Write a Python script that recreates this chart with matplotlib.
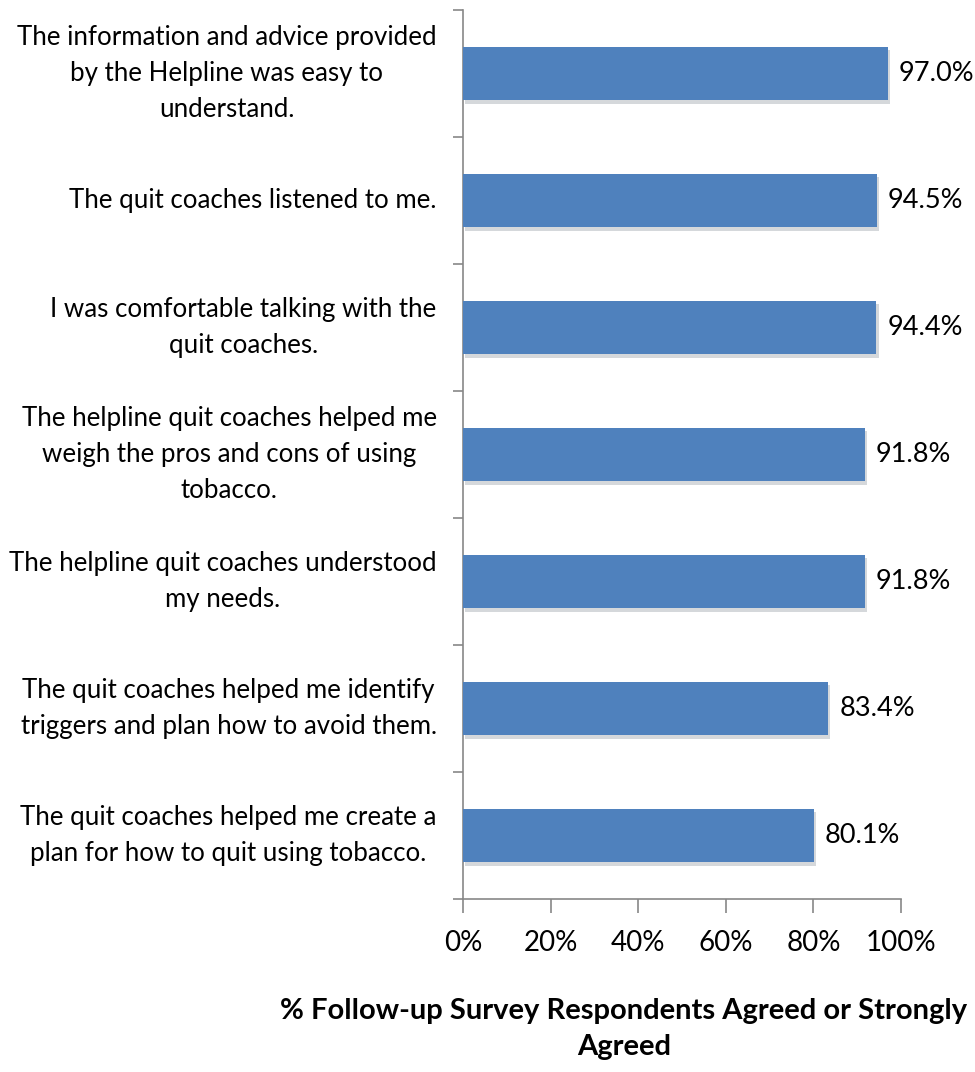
import numpy as np
import matplotlib as mpl
import matplotlib.pyplot as plt
import matplotlib.patheffects as pe
from matplotlib.ticker import PercentFormatter

categories = [
    "The information and advice provided\nby the Helpline was easy to\nunderstand.",
    "The quit coaches listened to me.",
    "I was comfortable talking with the\nquit coaches.",
    "The helpline quit coaches helped me\nweigh the pros and cons of using\ntobacco.",
    "The helpline quit coaches understood\nmy needs.",
    "The quit coaches helped me identify\ntriggers and plan how to avoid them.",
    "The quit coaches helped me create a\nplan for how to quit using tobacco.",
]
values = [97.0, 94.5, 94.4, 91.8, 91.8, 83.4, 80.1]
xticks = [0, 20, 40, 60, 80, 100]

mpl.rcParams['font.family'] = ['Lato', 'DejaVu Sans']

fig = plt.figure(figsize=(9.75, 10.72), dpi=100)
ax = fig.add_axes([463/975, 1 - 899/1072, (901-463)/975, (899-10)/1072])

y_pos = np.arange(len(categories))
bars = ax.barh(y_pos, values, height=0.42, color='#4F81BD', zorder=3,
               path_effects=[pe.SimplePatchShadow(offset=(1.5, -2.5), alpha=0.18), pe.Normal()])

ax.set_ylim(len(categories) - 0.5, -0.5)
ax.set_xlim(0, 100)
ax.set_yticks(np.arange(-0.5, len(categories) + 0.5, 1))
ax.set_yticklabels([])
ax.tick_params(axis='y', length=7, width=1.2, color='#878787')
ax.set_xticks(xticks)
ax.xaxis.set_major_formatter(PercentFormatter(decimals=0))
ax.tick_params(axis='x', length=10, width=1.2, color='#878787', labelsize=20, pad=12)

for s in ['top', 'right']:
    ax.spines[s].set_visible(False)
for s in ['left', 'bottom']:
    ax.spines[s].set_color('#878787')
    ax.spines[s].set_linewidth(1.2)

for i, (lab, v) in enumerate(zip(categories, values)):
    ax.text(-6, i, lab, ha='right', va='center', multialignment='center',
            fontsize=18.6, linespacing=1.55, clip_on=False)
    ax.text(v + 2.5, i, f"{v:.1f}%", ha='left', va='center', fontsize=19.5)

fig.text(624/975, 1 - 1029/1072, "% Follow-up Survey Respondents Agreed or Strongly\nAgreed",
         ha='center', va='center', fontsize=21, fontweight='bold', linespacing=1.45)

fig.savefig('out.png', dpi=100)
